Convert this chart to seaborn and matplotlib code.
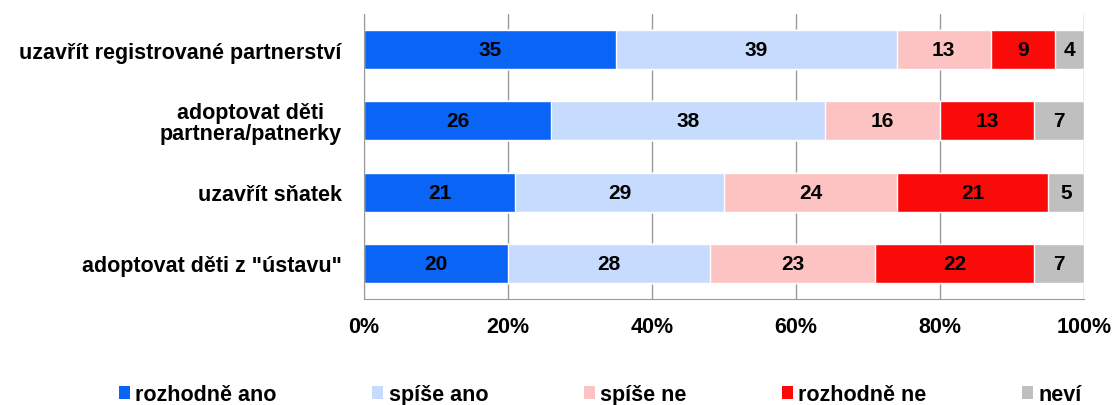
import numpy as np
import pandas as pd
import matplotlib.pyplot as plt
import seaborn as sns
from matplotlib.patches import Patch

categories = ['uzavřít registrované partnerství',
              'adoptovat děti\npartnera/patnerky',
              'uzavřít sňatek',
              'adoptovat děti z "ústavu"']
series = ['rozhodně ano', 'spíše ano', 'spíše ne', 'rozhodně ne', 'neví']
rozhodne_ano = [35, 26, 21, 20]
spise_ano = [39, 38, 29, 28]
spise_ne = [13, 16, 24, 23]
rozhodne_ne = [9, 13, 21, 22]
nevi = [4, 7, 5, 7]
colors = ['#0a64f5', '#c6dbfd', '#fdc3c3', '#fb0a0a', '#bfbfbf']

sns.set_style('white')
plt.rcParams['font.family'] = ['Liberation Sans', 'DejaVu Sans']
plt.rcParams['font.weight'] = 'bold'
plt.rcParams['text.color'] = 'black'
plt.rcParams['xtick.color'] = 'black'
plt.rcParams['ytick.color'] = 'black'

vals = np.array([rozhodne_ano, spise_ano, spise_ne, rozhodne_ne, nevi])
cum = vals.cumsum(axis=0)

fig = plt.figure(figsize=(11.14, 4.06), dpi=100)
ax = fig.add_axes([0.3268, 0.261, 0.6464, 0.702])

# draw cumulative totals back to front so each segment shows
for i in range(len(series) - 1, -1, -1):
    df = pd.DataFrame({'kat': categories, 'val': cum[i]})
    sns.barplot(data=df, x='val', y='kat', color=colors[i], width=0.55,
                saturation=1, ax=ax, zorder=2)

for i in range(len(series)):
    for j in range(len(categories)):
        mid = cum[i, j] - vals[i, j] / 2
        ax.text(mid, j, str(vals[i, j]), ha='center', va='center',
                fontsize=15, fontweight='bold', color='black', zorder=3)

ax.set_xlim(0, 100)
ax.set_ylim(3.5, -0.5)
ax.set_xticks([0, 20, 40, 60, 80, 100])
ax.set_xticklabels(['0%', '20%', '40%', '60%', '80%', '100%'])
ax.set_xlabel('')
ax.set_ylabel('')
ax.xaxis.grid(True, color='#999999', lw=1)
ax.set_axisbelow(True)
for s in ['top', 'right']:
    ax.spines[s].set_visible(False)
for s in ['left', 'bottom']:
    ax.spines[s].set_color('#999999')
ax.set_yticks([-0.5, 0.5, 1.5, 2.5, 3.5], minor=True)
ax.tick_params(axis='y', which='major', length=0, pad=16, labelsize=15.5)
ax.tick_params(axis='y', which='minor', length=6, color='#999999', direction='out')
ax.tick_params(axis='x', length=5, color='#999999', labelcolor='black',
               direction='out', labelsize=15.5, pad=7)
for lab in ax.get_yticklabels():
    lab.set_multialignment('center')
    lab.set_fontweight('bold')
    lab.set_linespacing(1.0)
for lab in ax.get_xticklabels():
    lab.set_fontweight('bold')

handles = [Patch(facecolor=c, edgecolor='none', label=s) for c, s in zip(colors, series)]
fig.legend(handles=handles, loc='center', bbox_to_anchor=(0.539, 0.026), ncol=5,
           frameon=False, fontsize=15.5, handlelength=0.5, handleheight=0.55,
           handletextpad=0.25, columnspacing=4.45)

plt.savefig('out.png', dpi=100)
